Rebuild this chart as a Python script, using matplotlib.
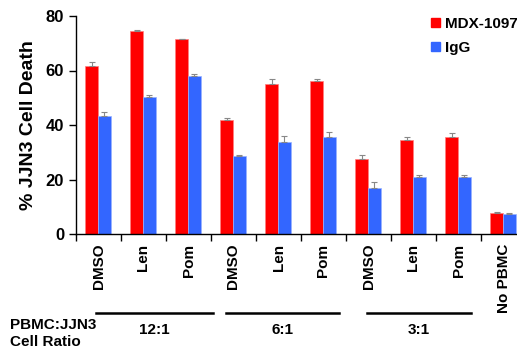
import matplotlib
matplotlib.use("Agg")
import matplotlib.pyplot as plt
import matplotlib.transforms as mtransforms
from matplotlib.patches import Patch
import numpy as np

plt.rcParams["font.family"] = ["Liberation Sans", "DejaVu Sans"]
plt.rcParams["font.weight"] = "bold"

# % JJN3 cell death per condition
conditions = ["DMSO", "Len", "Pom", "DMSO", "Len", "Pom", "DMSO", "Len", "Pom", "No PBMC"]
mdx_1097 = [61.6, 74.6, 71.4, 41.7, 54.9, 56.3, 27.4, 34.5, 35.6, 7.6]
mdx_err = [1.4, 0.4, 0.2, 1.0, 1.8, 0.5, 1.5, 1.1, 1.4, 0.5]
igg = [43.3, 50.4, 57.9, 28.6, 33.6, 35.6, 16.8, 20.8, 20.8, 7.2]
igg_err = [1.6, 0.7, 0.7, 0.3, 2.2, 1.8, 2.2, 0.8, 0.8, 0.4]

ratios = ["12:1", "6:1", "3:1"]
ratio_spans = [(0.44, 3.04), (3.33, 5.84), (6.47, 8.78)]

RED = "#FF0000"
BLUE = "#3366FF"

W, H = 517, 348
fig = plt.figure(figsize=(W / 100, H / 100), dpi=100)
ax = fig.add_axes([76 / W, 1 - 234 / H, 450 / W, 218 / H])

x = np.arange(len(conditions))
bw = 0.28
err_kw = dict(ecolor="#888888", elinewidth=0.8, capsize=2, capthick=0.8)
ax.bar(x + 0.21, mdx_1097, bw, align="edge", color=RED, edgecolor="#ff8080",
       linewidth=0.5, yerr=[np.zeros(len(x)), mdx_err], error_kw=err_kw)
ax.bar(x + 0.49, igg, bw, align="edge", color=BLUE, edgecolor="#99b3ff",
       linewidth=0.5, yerr=[np.zeros(len(x)), igg_err], error_kw=err_kw)

ax.set_xlim(0, len(conditions))
ax.set_ylim(0, 80)
ax.set_yticks([0, 20, 40, 60, 80])
ax.tick_params(axis="y", direction="out", length=5, labelsize=12, width=1)

# boundary ticks as major, category labels on minor
ax.set_xticks(np.arange(len(conditions) + 1))
ax.set_xticklabels([])
ax.tick_params(axis="x", which="major", direction="out", length=5, width=1)
ax.set_xticks(x + 0.5, minor=True)
ax.set_xticklabels(conditions, minor=True, rotation=90, fontsize=11,
                   fontweight="bold", va="top")
ax.tick_params(axis="x", which="minor", length=0, pad=7)

for side in ["top", "right"]:
    ax.spines[side].set_visible(False)
ax.spines["left"].set_linewidth(1)
ax.spines["bottom"].set_linewidth(1)

ax.set_ylabel("% JJN3 Cell Death", fontsize=14, fontweight="bold", labelpad=6)

# ratio group brackets below the axis
trans = mtransforms.blended_transform_factory(ax.transData, ax.transAxes)
for (x0, x1), lab in zip(ratio_spans, ratios):
    ax.plot([x0, x1], [-0.362, -0.362], color="black", lw=1.8,
            transform=trans, clip_on=False)
    ax.text((x0 + x1) / 2, -0.44, lab, transform=trans, ha="center", va="center",
            fontsize=11, fontweight="bold")

fig.text(10 / W, 1 - 325 / H, "PBMC:JJN3", fontsize=11, fontweight="bold",
         ha="left", va="center")
fig.text(10 / W, 1 - 342 / H, "Cell Ratio", fontsize=11, fontweight="bold",
         ha="left", va="center")

handles = [Patch(color=RED, label="MDX-1097"), Patch(color=BLUE, label="IgG")]
fig.legend(handles=handles, loc="upper left", bbox_to_anchor=(431 / W, 1 - 17 / H),
           frameon=False, fontsize=11, handlelength=0.6, handleheight=0.6,
           handletextpad=0.3, labelspacing=0.65, borderpad=0, borderaxespad=0)

fig.savefig("out.png", dpi=100)
